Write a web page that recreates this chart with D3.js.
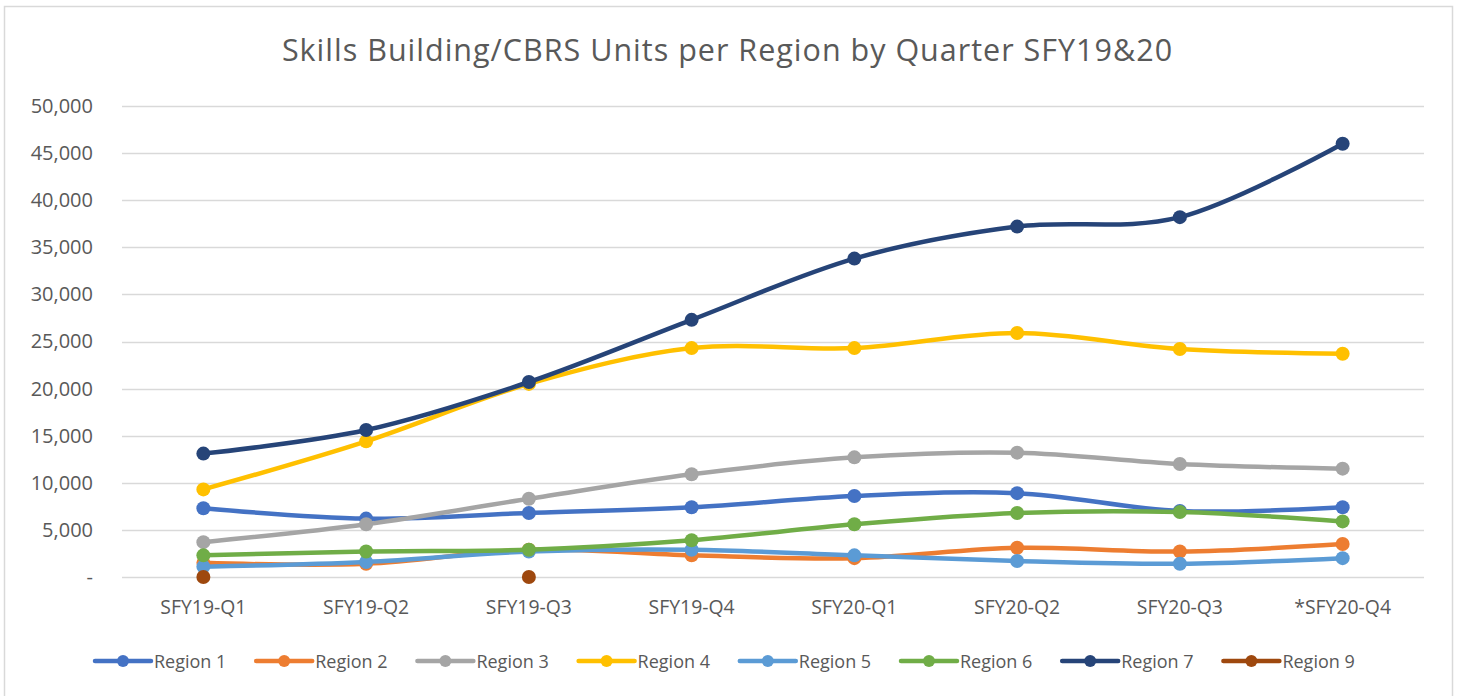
<!DOCTYPE html>
<html>
<head>
<meta charset="utf-8">
<script src="https://cdn.jsdelivr.net/npm/d3@7"></script>
<style>
  html, body { margin: 0; padding: 0; background: #fff; }
  svg { display: block; }
</style>
</head>
<body>
<svg id="chart" width="1460" height="696"></svg>
<script>
const title = "Skills Building/CBRS Units per Region by Quarter SFY19&20";
const categories = ["SFY19-Q1", "SFY19-Q2", "SFY19-Q3", "SFY19-Q4", "SFY20-Q1", "SFY20-Q2", "SFY20-Q3", "*SFY20-Q4"];
const seriesNames = ["Region 1", "Region 2", "Region 3", "Region 4", "Region 5", "Region 6", "Region 7", "Region 9"];
const region1 = [7300, 6200, 6800, 7400, 8600, 8900, 7000, 7400];
const region2 = [1500, 1400, 2900, 2300, 2000, 3100, 2700, 3500];
const region3 = [3700, 5600, 8300, 10900, 12700, 13200, 12000, 11500];
const region4 = [9300, 14400, 20500, 24300, 24300, 25900, 24200, 23700];
const region5 = [1100, 1600, 2700, 2900, 2300, 1700, 1400, 2000];
const region6 = [2300, 2700, 2900, 3900, 5600, 6800, 6900, 5900];
const region7 = [13100, 15600, 20700, 27300, 33800, 37200, 38200, 46000];
const region9 = [0, null, 0, null, null, null, null, null];
const seriesValues = [region1, region2, region3, region4, region5, region6, region7, region9];
const colors = ["#4472C4", "#ED7D31", "#A5A5A5", "#FFC000", "#5B9BD5", "#70AD47", "#264478", "#9E480E"];
const yTicks = [0, 5000, 10000, 15000, 20000, 25000, 30000, 35000, 40000, 45000, 50000];

const svg = d3.select("#chart");
const FONT = "'Open Sans', Lato, sans-serif";
const TXT = "#595959";

// outer border
svg.append("rect").attr("x", 4.5).attr("y", 6.5).attr("width", 1448).attr("height", 700)
  .attr("fill", "#fff").attr("stroke", "#D9D9D9").attr("stroke-width", 1.5);

const plot = { left: 122, right: 1424, top: 106, bottom: 577 };

const x = d3.scaleBand().domain(categories).range([plot.left, plot.right]).padding(0);
const y = d3.scaleLinear().domain([0, 50000]).range([plot.bottom, plot.top]);
const cx = c => x(c) + x.bandwidth() / 2;

// title
svg.append("text").attr("x", 727.5).attr("y", 61)
  .attr("text-anchor", "middle").attr("font-family", FONT).attr("font-size", 30.5)
  .attr("letter-spacing", 1.0)
  .attr("fill", TXT).text(title);

// y axis labels
const yAxis = d3.axisLeft(y).tickValues(yTicks).tickSize(0).tickPadding(0)
  .tickFormat(d => d === 0 ? "-" : d3.format(",")(d));
const gy = svg.append("g").attr("transform", `translate(93,0)`).call(yAxis);
gy.select(".domain").remove();
gy.selectAll("text").attr("font-family", FONT).attr("font-size", 20).attr("fill", TXT)
  .attr("text-anchor", "end").attr("dx", 0);

// gridlines
svg.append("g").selectAll("line").data(yTicks).join("line")
  .attr("x1", plot.left).attr("x2", plot.right)
  .attr("y1", d => Math.round(y(d)) + 0.5).attr("y2", d => Math.round(y(d)) + 0.5)
  .attr("stroke", "#D9D9D9").attr("stroke-width", 1.5);

// x axis labels
const xAxis = d3.axisBottom(x).tickSize(0).tickPadding(0);
const gx = svg.append("g").attr("transform", `translate(0,${plot.bottom + 37})`).call(xAxis);
gx.select(".domain").remove();
gx.selectAll("text").attr("font-family", FONT).attr("font-size", 19.4).attr("fill", TXT).attr("dy", 0);

// series
const line = d3.line()
  .defined(d => d.v !== null)
  .x(d => cx(d.c)).y(d => y(d.v))
  .curve(d3.curveCatmullRom.alpha(0));

seriesValues.forEach((vals, i) => {
  const pts = categories.map((c, j) => ({ c, v: vals[j] }));
  const g = svg.append("g");
  g.append("path").attr("d", line(pts)).attr("fill", "none")
    .attr("stroke", colors[i]).attr("stroke-width", 4.5)
    .attr("stroke-linejoin", "round").attr("stroke-linecap", "round");
  g.selectAll("circle").data(pts.filter(d => d.v !== null)).join("circle")
    .attr("cx", d => cx(d.c)).attr("cy", d => y(d.v)).attr("r", 7)
    .attr("fill", colors[i]);
});

// legend
const legendX0 = 95, legendStep = 161.2, legendY = 661;
const lg = svg.append("g");
seriesNames.forEach((name, i) => {
  const lx = legendX0 + i * legendStep;
  lg.append("line").attr("x1", lx).attr("x2", lx + 56).attr("y1", legendY).attr("y2", legendY)
    .attr("stroke", colors[i]).attr("stroke-width", 4.5).attr("stroke-linecap", "round");
  lg.append("circle").attr("cx", lx + 28).attr("cy", legendY).attr("r", 6).attr("fill", colors[i]);
  lg.append("text").attr("x", lx + 59).attr("y", legendY + 6.5)
    .attr("font-family", FONT).attr("font-size", 18).attr("fill", TXT).text(name);
});
</script>
</body>
</html>
